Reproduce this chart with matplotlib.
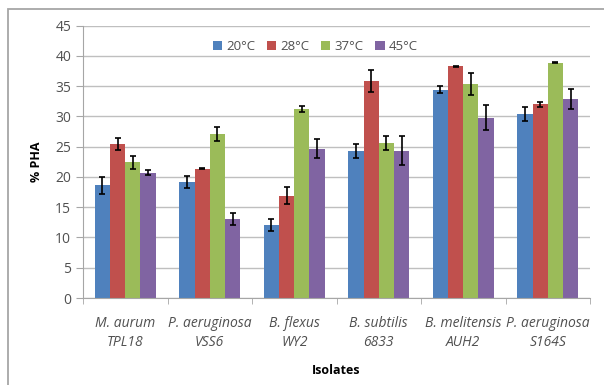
import numpy as np
import matplotlib
matplotlib.use('Agg')
import matplotlib.pyplot as plt
from matplotlib.patches import Rectangle

plt.rcParams['font.family'] = ['Open Sans', 'DejaVu Sans']

isolates = ['M. aurum\nTPL18', 'P. aeruginosa\nVSS6', 'B. flexus\nWY2',
            'B. subtilis\n6833', 'B. melitensis\nAUH2', 'P. aeruginosa\nS164S']
temps = ['20°C', '28°C', '37°C', '45°C']

pha_20 = [18.6, 19.2, 12.1, 24.3, 34.4, 30.4]
pha_28 = [25.5, 21.4, 16.9, 35.9, 38.3, 32.0]
pha_37 = [22.4, 27.1, 31.3, 25.6, 35.4, 38.9]
pha_45 = [20.7, 13.0, 24.7, 24.3, 29.8, 32.9]

err_20 = [1.4, 1.0, 1.0, 1.2, 0.6, 1.2]
err_28 = [1.0, 0.1, 1.4, 1.8, 0.1, 0.4]
err_37 = [1.0, 1.2, 0.5, 1.1, 1.8, 0.1]
err_45 = [0.4, 1.0, 1.6, 2.4, 2.1, 1.6]

colors = ['#4F81BD', '#C0504D', '#9BBB59', '#8064A2']

fig = plt.figure(figsize=(6.04, 3.85), dpi=100)
fig.patches.append(Rectangle((8 / 604, -0.05), 1.0, 1.05 - 9.5 / 385, transform=fig.transFigure,
                             fill=False, edgecolor='#A6A6A6', linewidth=1.3))
ax = fig.add_axes([83 / 604, 1 - 298 / 385, 507 / 604, (298 - 25.7) / 385])

x = np.arange(len(isolates))
w = 0.18
series = [pha_20, pha_28, pha_37, pha_45]
errors = [err_20, err_28, err_37, err_45]
for i, (vals, errs) in enumerate(zip(series, errors)):
    ax.bar(x + (i - 1.5) * w, vals, w, color=colors[i], label=temps[i], zorder=2,
           yerr=errs, error_kw=dict(ecolor='black', elinewidth=1.2, capsize=2.5, capthick=1.2))

ax.set_xlim(-0.5, len(isolates) - 0.5)
ax.set_ylim(0, 45)
ax.set_yticks(range(0, 50, 5))
ax.yaxis.grid(True, color='#BFBFBF', linewidth=1)
ax.set_axisbelow(True)
for s in ['top', 'right']:
    ax.spines[s].set_visible(False)
for s in ['left', 'bottom']:
    ax.spines[s].set_color('#A6A6A6')
ax.tick_params(axis='y', colors='#A6A6A6', labelcolor='#505050', length=5, labelsize=10)
ax.set_xticks(x)
ax.set_xticklabels(isolates, style='italic', fontsize=10, color='#505050', linespacing=1.35)
ax.tick_params(axis='x', length=0, pad=13)
ax.set_xticks(np.arange(-0.5, len(isolates), 1), minor=True)
ax.tick_params(axis='x', which='minor', length=4, colors='#A6A6A6')

ax.set_ylabel('% PHA', fontsize=9, fontweight='bold', labelpad=9)
ax.set_xlabel('Isolates', fontsize=9, fontweight='bold', labelpad=10)

ax.legend(loc='upper center', bbox_to_anchor=(0.458, 0.99), ncol=4, frameon=False,
          fontsize=9.5, handlelength=0.7, handleheight=0.7, handletextpad=0.3,
          columnspacing=0.9, labelcolor='#505050')

fig.savefig('out.png', dpi=100)
